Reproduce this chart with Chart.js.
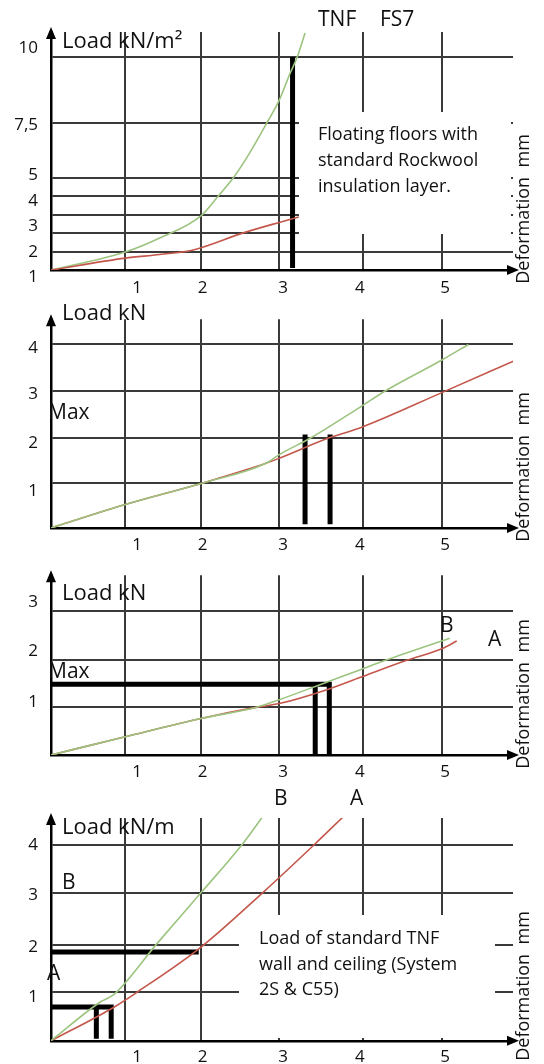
<!DOCTYPE html>
<html><head><meta charset="utf-8">
<script src="https://cdn.jsdelivr.net/npm/chart.js@4.4.0/dist/chart.umd.min.js"></script>
<style>
html,body{margin:0;padding:0;background:#fff;width:544px;height:1064px;overflow:hidden;position:relative;}
canvas{position:absolute;left:0;}
</style></head><body>
<canvas id="c1" width="544" height="296" style="top:0px"></canvas>
<canvas id="c2" width="544" height="256" style="top:296px"></canvas>
<canvas id="c3" width="544" height="233" style="top:552px"></canvas>
<canvas id="c4" width="544" height="279" style="top:785px"></canvas>
<script>
// ---- shared x axis (Deformation mm) ----
const xGrid = [0.95, 1.92, 2.92, 3.99, 5.0];
const xTickPos = [1.1, 1.94, 2.97, 3.95, 5.04];
const xTickLabels = ['1', '2', '3', '4', '5'];

// ---- Panel 1: Load kN/m² (TNF FS7 floating floors) ----
const p1YGrid = [2.0, 2.75, 3.45, 4.2, 4.9, 7.06, 9.65];
const p1YTickPos = [1.02, 2.0, 3.02, 4.0, 5.02, 6.98, 10.0];
const p1YTickLabels = ['1', '2', '3', '4', '5', '7,5', '10'];
const p1GreenX = [0, 0.95, 1.39, 1.93, 2.14, 2.33, 2.54, 2.76, 2.92, 3.06, 3.15, 3.25];
const p1GreenY = [1.29, 2.0, 2.55, 3.45, 4.2, 4.9, 5.88, 7.06, 7.96, 9.02, 9.65, 10.59];
const p1RedX = [0, 0.95, 1.39, 1.82, 2.46, 2.92, 3.17];
const p1RedY = [1.29, 1.76, 1.9, 2.08, 2.75, 3.16, 3.37];
const p1BarX = [3.09, 3.09];
const p1BarY = [1.37, 9.65];

// ---- Panel 2: Load kN ----
const p2YGrid = [0.99, 1.96, 2.99, 4.0];
const p2YTickPos = [0.81, 1.84, 2.91, 3.92];
const p2YTickLabels = ['1', '2', '3', '4'];
const p2GreenX = [0, 0.95, 1.92, 2.75, 2.92, 3.32, 3.95, 4.28, 5.0, 5.34];
const p2GreenY = [0, 0.51, 0.97, 1.41, 1.6, 1.96, 2.63, 2.99, 3.66, 4.0];
const p2RedX = [0, 0.95, 1.92, 2.75, 2.92, 3.55, 3.95, 5.0, 5.92];
const p2RedY = [0, 0.51, 0.97, 1.41, 1.52, 1.96, 2.18, 2.95, 3.64];
const p2Bar1X = [3.25, 3.25], p2Bar1Y = [0.08, 2.04];
const p2Bar2X = [3.57, 3.57], p2Bar2Y = [0.08, 2.04];

// ---- Panel 3: Load kN (A / B) ----
const p3YGrid = [0.99, 1.97, 3.0];
const p3YTickPos = [1.09, 2.15, 3.18];
const p3YTickLabels = ['1', '2', '3'];
const p3GreenX = [0, 0.95, 1.92, 2.62, 2.92, 3.55, 3.95, 4.28, 5.1];
const p3GreenY = [0, 0.38, 0.76, 0.99, 1.15, 1.53, 1.77, 1.97, 2.43];
const p3RedX = [0, 0.95, 1.92, 2.62, 2.92, 3.55, 3.95, 4.55, 5.0, 5.19];
const p3RedY = [0, 0.38, 0.76, 0.99, 1.07, 1.37, 1.61, 1.97, 2.21, 2.37];
const p3Bar1X = [0, 3.56, 3.56], p3Bar1Y = [1.47, 1.47, 0];
const p3Bar2X = [3.38, 3.38], p3Bar2Y = [1.47, 0];

// ---- Panel 4: Load kN/m (TNF wall and ceiling) ----
const p4YGrid = [0.99, 1.95, 3.02, 4.0];
const p4YTickPos = [0.89, 1.91, 2.96, 3.98];
const p4YTickLabels = ['1', '2', '3', '4'];
const p4GreenX = [0, 0.63, 0.81, 1.35, 1.92, 2.44, 2.75];
const p4GreenY = [0, 0.79, 0.95, 1.97, 3.02, 3.99, 4.66];
const p4RedX = [0, 0.81, 1.11, 1.92, 2.71, 3.37, 3.8];
const p4RedY = [0, 0.69, 1.0, 1.91, 3.02, 4.0, 4.66];
const p4Bar1X = [-0.04, 1.89], p4Bar1Y = [1.81, 1.81];
const p4Bar2X = [-0.04, 0.77, 0.77], p4Bar2Y = [0.69, 0.69, 0.04];
const p4Bar3X = [0.58, 0.58], p4Bar3Y = [0.69, 0.04];

// ---- styles ----
const GREEN = '#9cc47f', RED = '#c4574b', GRID = '#3a3a3a', INK = '#111';
const FONT = "'Open Sans', sans-serif";

function pts(xs, ys) { return xs.map((x, i) => ({ x: x, y: ys[i] })); }
function curve(xs, ys, color) {
  return { data: pts(xs, ys), borderColor: color, borderWidth: 1.6, pointRadius: 0,
           cubicInterpolationMode: 'monotone', fill: false };
}
function bar(xs, ys) {
  return { data: pts(xs, ys), borderColor: '#000', borderWidth: 5, pointRadius: 0,
           tension: 0, borderJoinStyle: 'miter', borderCapStyle: 'butt', fill: false };
}

const panels = [
  { id: 'c1', top: 0, h: 296, padTop: 32, xh: 26, xPad: 8, yMin: 1.294, yMax: 10.63,
    yGrid: p1YGrid, yTickPos: p1YTickPos, yTickLabels: p1YTickLabels,
    datasets: [curve(p1RedX, p1RedY, RED), curve(p1GreenX, p1GreenY, GREEN), bar(p1BarX, p1BarY)],
    box: { x1: 299, y1: 112, x2: 511, y2: 234 },
    texts: [
      { t: 'TNF', x: 318, y: 20, s: 21 }, { t: 'FS7', x: 380, y: 20, s: 21 },
      { t: 'Load kN/m²', x: 62, y: 42, s: 22 },
      { t: 'Floating floors with', x: 318, y: 135, s: 18 },
      { t: 'standard Rockwool', x: 318, y: 161, s: 18 },
      { t: 'insulation layer.', x: 318, y: 187, s: 18 }
    ], deform: 209 },
  { id: 'c2', top: 296, h: 256, padTop: 7, xh: 24, xPad: 7, yMin: 0, yMax: 4.55,
    yGrid: p2YGrid, yTickPos: p2YTickPos, yTickLabels: p2YTickLabels,
    datasets: [curve(p2GreenX, p2GreenY, GREEN), curve(p2RedX, p2RedY, RED), bar(p2Bar1X, p2Bar1Y), bar(p2Bar2X, p2Bar2Y)],
    texts: [ { t: 'Load kN', x: 62, y: 314, s: 22 }, { t: 'Max', x: 48, y: 413, s: 21 } ],
    deform: 467 },
  { id: 'c3', top: 552, h: 233, padTop: 17, xh: 30, xPad: 7, yMin: 0, yMax: 3.74,
    yGrid: p3YGrid, yTickPos: p3YTickPos, yTickLabels: p3YTickLabels,
    datasets: [curve(p3GreenX, p3GreenY, GREEN), curve(p3RedX, p3RedY, RED), bar(p3Bar1X, p3Bar1Y), bar(p3Bar2X, p3Bar2Y)],
    texts: [ { t: 'Load kN', x: 62, y: 594, s: 22 }, { t: 'Max', x: 48, y: 672, s: 21 },
             { t: 'B', x: 440, y: 626, s: 21 }, { t: 'A', x: 488, y: 640, s: 21 } ],
    deform: 694 },
  { id: 'c4', top: 785, h: 279, padTop: 33, xh: 22, xPad: 6, yMin: 0, yMax: 4.54,
    yGrid: p4YGrid, yTickPos: p4YTickPos, yTickLabels: p4YTickLabels,
    datasets: [curve(p4GreenX, p4GreenY, GREEN), curve(p4RedX, p4RedY, RED), bar(p4Bar1X, p4Bar1Y), bar(p4Bar2X, p4Bar2Y), bar(p4Bar3X, p4Bar3Y)],
    box: { x1: 239, y1: 915, x2: 495, y2: 1038 },
    texts: [ { t: 'B', x: 274, y: 799, s: 21 }, { t: 'A', x: 350, y: 799, s: 21 },
             { t: 'Load kN/m', x: 62, y: 828, s: 22 }, { t: 'B', x: 62, y: 883, s: 21 }, { t: 'A', x: 47, y: 974, s: 21 },
             { t: 'Load of standard TNF', x: 259, y: 939, s: 18 },
             { t: 'wall and ceiling (System', x: 259, y: 965, s: 18 },
             { t: '2S & C55)', x: 259, y: 990, s: 18 } ],
    deform: 986 }
];

const deco = {
  id: 'deco',
  afterDatasetsDraw(chart, args, opts) {
    const P = panels[opts.panel];
    if (!P.box) return;
    const ctx = chart.ctx;
    ctx.save();
    ctx.fillStyle = '#fff';
    ctx.fillRect(P.box.x1, P.box.y1 - P.top, P.box.x2 - P.box.x1, P.box.y2 - P.box.y1);
    ctx.restore();
  },
  afterDraw(chart, args, opts) {
    const P = panels[opts.panel];
    const ctx = chart.ctx, a = chart.chartArea;
    ctx.save();
    ctx.fillStyle = '#000';
    ctx.beginPath();
    ctx.moveTo(a.left, a.top - 5); ctx.lineTo(a.left - 5, a.top + 7); ctx.lineTo(a.left + 5, a.top + 7);
    ctx.closePath(); ctx.fill();
    ctx.beginPath();
    ctx.moveTo(a.right + 6, a.bottom); ctx.lineTo(a.right - 6, a.bottom - 5); ctx.lineTo(a.right - 6, a.bottom + 5);
    ctx.closePath(); ctx.fill();
    ctx.fillStyle = INK;
    ctx.textBaseline = 'middle';
    ctx.textAlign = 'left';
    P.texts.forEach(o => {
      ctx.font = o.s + 'px ' + FONT;
      ctx.fillText(o.t, o.x, o.y - P.top);
    });
    ctx.translate(524, P.deform - P.top);
    ctx.rotate(-Math.PI / 2);
    ctx.textAlign = 'center';
    ctx.font = '18px ' + FONT;
    ctx.fillText('Deformation  mm', 0, 0);
    ctx.restore();
  }
};

panels.forEach((P, idx) => {
  const nxg = xGrid.length, nyg = P.yGrid.length;
  new Chart(document.getElementById(P.id), {
    type: 'line',
    data: { datasets: P.datasets },
    plugins: [deco],
    options: {
      responsive: false, animation: false, devicePixelRatio: 1,
      layout: { padding: { left: 0, right: 31, top: P.padTop, bottom: 0 } },
      plugins: { legend: { display: false }, tooltip: { enabled: false }, deco: { panel: idx } },
      scales: {
        x: {
          type: 'linear', min: 0, max: 5.91,
          afterBuildTicks: s => { s.ticks = xGrid.map(v => ({ value: v })).concat(xTickPos.map(v => ({ value: v }))); },
          afterFit: s => { s.height = P.xh; },
          grid: { color: c => (c.index < nxg ? GRID : 'rgba(0,0,0,0)'), lineWidth: 2, drawTicks: false },
          border: { display: true, color: '#000', width: 2.5 },
          ticks: { autoSkip: false, maxRotation: 0, padding: P.xPad, color: INK,
                   font: { family: FONT, size: 17 },
                   callback: (v, i) => (i >= nxg ? xTickLabels[i - nxg] : '') }
        },
        y: {
          type: 'linear', min: P.yMin, max: P.yMax,
          afterBuildTicks: s => { s.ticks = P.yGrid.map(v => ({ value: v })).concat(P.yTickPos.map(v => ({ value: v }))); },
          afterFit: s => { s.width = 51; },
          grid: { color: c => (c.index < nyg ? GRID : 'rgba(0,0,0,0)'), lineWidth: 2, drawTicks: false },
          border: { display: true, color: '#000', width: 2.5 },
          ticks: { autoSkip: false, padding: 13, color: INK,
                   font: { family: FONT, size: 17 },
                   callback: (v, i) => (i >= nyg ? P.yTickLabels[i - nyg] : '') }
        }
      }
    }
  });
});
</script>
</body></html>
